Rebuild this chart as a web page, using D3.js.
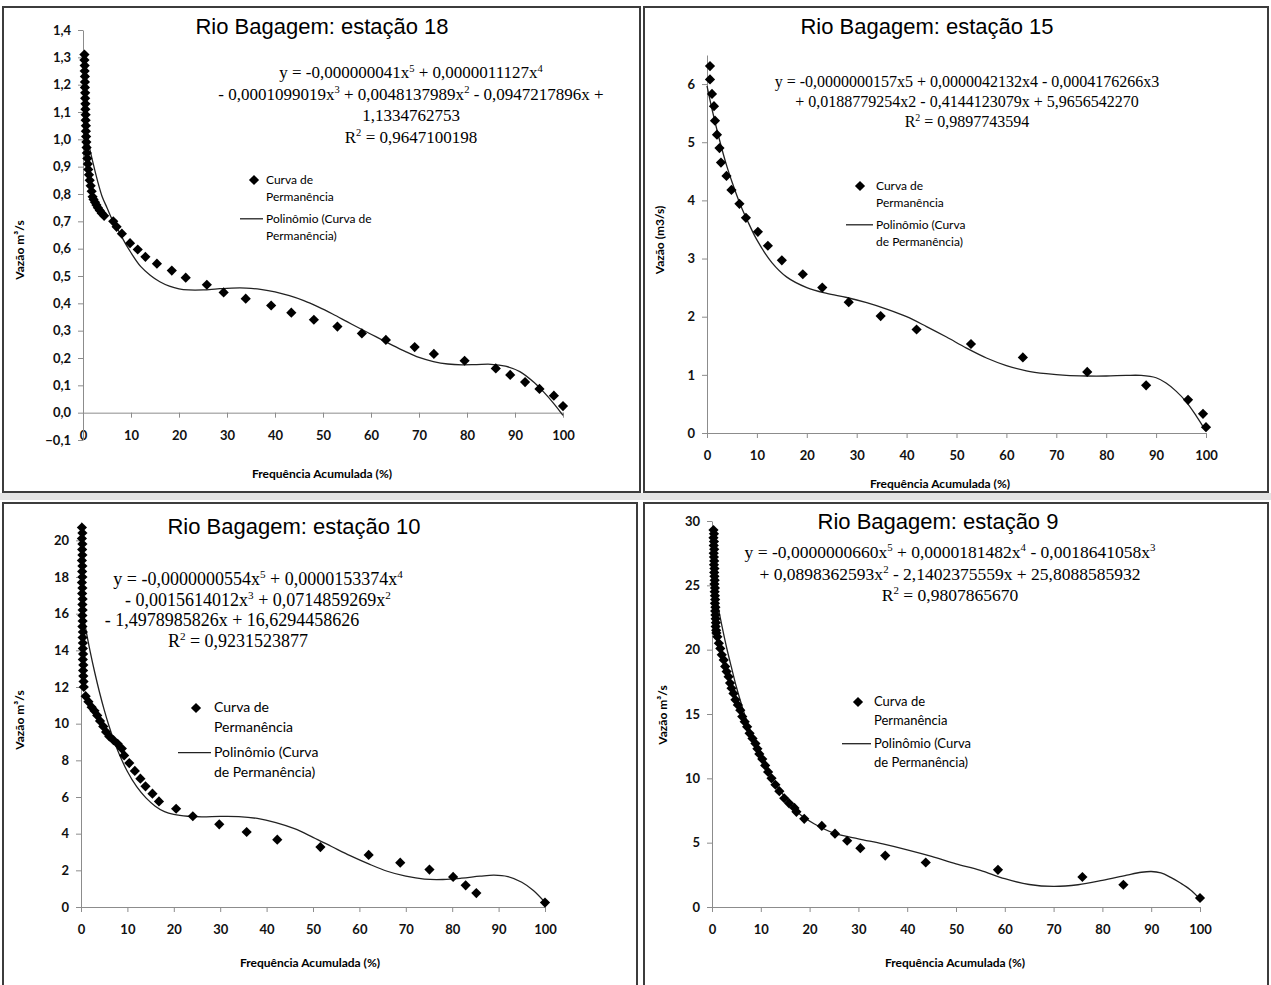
<!DOCTYPE html>
<html>
<head>
<meta charset="utf-8">
<script src="https://cdn.jsdelivr.net/npm/d3@7"></script>
<style>
  body { margin: 0; background: #fff; }
  svg { display: block; }
</style>
</head>
<body>
<svg id="chart" width="1271" height="985"></svg>
<script>
// ---- data ----
const freqTicks = [0, 10, 20, 30, 40, 50, 60, 70, 80, 90, 100];

// Estação 18
const st18X = [0.3, 0.3, 0.35, 0.35, 0.4, 0.4, 0.4, 0.45, 0.45, 0.5, 0.5, 0.55, 0.55, 0.6, 0.6, 0.65, 0.7, 0.75, 0.8, 0.9, 1.0, 1.1, 1.25, 1.4, 1.6, 1.8, 2.0, 2.2, 2.5, 2.8, 3.1, 3.5, 3.9, 4.4,
  6.3, 7.0, 8.1, 9.8, 11.4, 13.0, 15.4, 18.5, 21.4, 25.8, 29.3, 33.9, 39.2, 43.4, 48.1, 53.0, 58.1, 63.1, 69.1, 73.1, 79.5, 86.0, 89.0, 92.1, 95.1, 98.1, 100];
const st18Y = [1.31, 1.29, 1.27, 1.25, 1.23, 1.21, 1.19, 1.17, 1.15, 1.13, 1.11, 1.09, 1.07, 1.05, 1.03, 1.01, 0.99, 0.97, 0.95, 0.93, 0.91, 0.89, 0.87, 0.85, 0.83, 0.81, 0.79, 0.78, 0.77, 0.76, 0.75, 0.74, 0.73, 0.72,
  0.70, 0.68, 0.655, 0.62, 0.597, 0.57, 0.545, 0.52, 0.494, 0.468, 0.44, 0.417, 0.392, 0.366, 0.34, 0.315, 0.29, 0.266, 0.24, 0.215, 0.19, 0.162, 0.138, 0.112, 0.087, 0.062, 0.024];
const fit18X = [0, 0.5, 1, 2, 3, 4, 5, 6, 7, 8, 10, 12, 14, 16, 18, 20, 22, 25, 28, 31, 34, 37, 40, 43, 46, 49, 52, 55, 58, 61, 64, 67, 70, 73, 76, 79, 82, 85, 88, 91, 94, 96, 98, 100];
const fit18Y = [1.13, 1.06, 1.0, 0.92, 0.85, 0.79, 0.75, 0.71, 0.68, 0.645, 0.585, 0.535, 0.503, 0.479, 0.463, 0.453, 0.449, 0.449, 0.453, 0.456, 0.456, 0.451, 0.442, 0.428, 0.41, 0.387, 0.361, 0.333, 0.305, 0.278, 0.251, 0.225, 0.202, 0.187, 0.178, 0.175, 0.176, 0.177, 0.17, 0.15, 0.11, 0.075, 0.035, -0.01];
const ticks18Y = [-0.1, 0, 0.1, 0.2, 0.3, 0.4, 0.5, 0.6, 0.7, 0.8, 0.9, 1.0, 1.1, 1.2, 1.3, 1.4];
const eq18 = ["y = -0,000000041x^5 + 0,0000011127x^4", "- 0,0001099019x^3 + 0,0048137989x^2 - 0,0947217896x +", "1,1334762753", "R^2 = 0,9647100198"];

// Estação 15
const st15X = [0.6, 0.6, 1.0, 1.4, 1.6, 2.0, 2.5, 2.8, 3.9, 4.9, 6.5, 7.8, 10.2, 12.2, 15.0, 19.2, 23.1, 28.4, 34.8, 42.0, 52.9, 63.3, 76.2, 88.0, 96.4, 99.4, 100];
const st15Y = [6.31, 6.08, 5.83, 5.62, 5.37, 5.13, 4.90, 4.65, 4.42, 4.18, 3.94, 3.70, 3.46, 3.22, 2.97, 2.73, 2.50, 2.25, 2.01, 1.78, 1.53, 1.30, 1.05, 0.82, 0.57, 0.33, 0.10];
const fit15X = [0, 1, 2, 3, 4, 5, 6, 7, 8, 10, 13, 16, 20, 24, 28, 32, 36, 40, 44, 48, 52, 56, 60, 64, 68, 72, 76, 80, 84, 87, 90, 92, 94, 96, 98, 100];
const fit15Y = [5.97, 5.57, 5.21, 4.88, 4.58, 4.32, 4.08, 3.86, 3.67, 3.32, 2.93, 2.68, 2.50, 2.40, 2.33, 2.24, 2.13, 2.0, 1.83, 1.65, 1.46, 1.29, 1.16, 1.07, 1.02, 0.99, 0.98, 0.98, 0.99, 0.99, 0.95, 0.86, 0.72, 0.54, 0.30, 0.03];
const ticks15Y = [0, 1, 2, 3, 4, 5, 6];
const eq15 = ["y = -0,0000000157x5 + 0,0000042132x4 - 0,0004176266x3", "+ 0,0188779254x2 - 0,4144123079x + 5,9656542270", "R^2 = 0,9897743594"];

// Estação 10
const st10X = [0.2, 0.3, 0.2, 0.3, 0.25, 0.3, 0.2, 0.3, 0.25, 0.3, 0.2, 0.3, 0.25, 0.35, 0.3, 0.35, 0.3, 0.35, 0.3, 0.4, 0.35, 0.4, 0.4, 0.45, 0.4, 0.5, 0.45, 0.5, 0.55, 0.6,
  1.0, 1.6, 2.3, 2.9, 3.5, 4.1, 4.8, 5.4, 6.1, 7.0, 7.9, 8.8, 9.3, 10.4, 11.6, 12.8, 13.9, 15.4, 16.8, 20.5, 24.1, 29.8, 35.7, 42.3, 51.6, 62.0, 68.8, 75.1, 80.2, 82.9, 85.2, 100];
const st10Y = [20.7, 20.4, 20.1, 19.8, 19.5, 19.2, 18.9, 18.6, 18.3, 18.0, 17.7, 17.4, 17.1, 16.8, 16.5, 16.2, 15.9, 15.6, 15.3, 15.0, 14.7, 14.4, 14.1, 13.8, 13.5, 13.2, 12.9, 12.6, 12.3, 12.0,
  11.5, 11.2, 10.9, 10.7, 10.45, 10.15, 9.85, 9.55, 9.3, 9.1, 8.9, 8.64, 8.27, 7.85, 7.42, 7.0, 6.58, 6.18, 5.76, 5.36, 4.95, 4.51, 4.09, 3.67, 3.27, 2.84, 2.42, 2.04, 1.64, 1.18, 0.76, 0.24];
const fit10X = [0, 0.5, 1, 2, 3, 4, 5, 6, 7, 8, 10, 12, 14, 16, 18, 20, 23, 26, 30, 34, 38, 42, 46, 50, 54, 58, 62, 66, 70, 74, 78, 82, 86, 89, 92, 95, 97.5, 100];
const fit10Y = [16.63, 15.9, 15.2, 13.9, 12.75, 11.7, 10.75, 9.9, 9.15, 8.48, 7.39, 6.56, 5.95, 5.5, 5.2, 5.05, 4.95, 4.92, 4.94, 4.93, 4.83, 4.6, 4.27, 3.8, 3.3, 2.8, 2.35, 1.95, 1.68, 1.52, 1.5, 1.57, 1.68, 1.74, 1.66, 1.35, 0.9, 0.25];
const ticks10Y = [0, 2, 4, 6, 8, 10, 12, 14, 16, 18, 20];
const eq10 = ["y = -0,0000000554x^5 + 0,0000153374x^4", "- 0,0015614012x^3 + 0,0714859269x^2", "- 1,4978985826x + 16,6294458626", "R^2 = 0,9231523877"];

// Estação 9
const st9X = [0.3, 0.4, 0.3, 0.4, 0.35, 0.45, 0.35, 0.4, 0.45, 0.4, 0.5, 0.45, 0.5, 0.55, 0.5, 0.6, 0.55, 0.6, 0.65, 0.6, 0.7, 0.65, 0.7, 0.75, 0.8, 0.75, 0.85, 0.9,
  1.1, 1.4, 1.7, 2.0, 2.4, 2.7, 3.0, 3.4, 3.7, 4.0, 4.4, 4.8, 5.3, 5.8, 6.2, 6.7, 7.2, 7.7, 8.3, 8.9, 9.3, 9.7, 10.3, 10.9, 11.5, 12.2, 13.0, 13.8, 14.8, 15.8, 16.9, 17.3,
  18.9, 22.5, 25.2, 27.7, 30.4, 35.5, 43.8, 58.6, 75.9, 84.3, 100];
const st9Y = [29.3, 29.0, 28.7, 28.4, 28.1, 27.8, 27.5, 27.2, 26.9, 26.6, 26.3, 26.0, 25.7, 25.4, 25.1, 24.8, 24.5, 24.2, 23.9, 23.6, 23.3, 23.0, 22.7, 22.4, 22.1, 21.8, 21.5, 21.3,
  21.0, 20.5, 20.1, 19.6, 19.2, 18.7, 18.3, 17.9, 17.4, 17.0, 16.6, 16.1, 15.7, 15.3, 14.8, 14.4, 14.0, 13.5, 13.1, 12.7, 12.3, 11.9, 11.5, 11.0, 10.5, 10.0, 9.5, 9.0, 8.45, 8.06, 7.7, 7.4,
  6.85, 6.3, 5.7, 5.15, 4.57, 4.0, 3.46, 2.89, 2.33, 1.73, 0.70];
const fit9X = [0, 1, 2, 3, 4, 5, 6, 7, 8, 10, 12, 15, 18, 21, 25, 30, 35, 40, 45, 50, 55, 60, 65, 70, 75, 80, 85, 88, 90, 92, 94, 96, 98, 100];
const fit9Y = [25.8, 23.8, 21.9, 20.15, 18.6, 17.1, 15.8, 14.6, 13.55, 11.7, 10.2, 8.5, 7.2, 6.45, 5.74, 5.3, 4.9, 4.44, 3.93, 3.36, 2.85, 2.2, 1.75, 1.6, 1.73, 2.07, 2.48, 2.7, 2.76, 2.65, 2.3, 1.86, 1.34, 0.62];
const ticks9Y = [0, 5, 10, 15, 20, 25, 30];
const eq9 = ["y = -0,0000000660x^5 + 0,0000181482x^4 - 0,0018641058x^3", "+ 0,0898362593x^2 - 2,1402375559x + 25,8088585932", "R^2 = 0,9807865670"];

// ---- layout ----
const panels = [
  { box: [3, 7, 640, 492], title: "Rio Bagagem: estação 18", titleXY: [322, 34],
    xs: st18X, ys: st18Y, fx: fit18X, fy: fit18Y, yTicks: ticks18Y, yFmt: v => d3.format(".1f")(v).replace(".", ","),
    xRange: [83, 563], yDomain: [-0.1, 1.4], yRange: [440, 30],
    yTitle: "Vazão m³/s", yTitleXY: [24, 250], xTitleXY: [322, 478],
    eq: eq18, eqX: 411, eqY: 78, eqDy: 21.5, eqSize: 17,
    leg: [254, 180], legSize: 12, legLine: [240, 263], legText: [["Curva de", "Permanência"], ["Polinômio (Curva de", "Permanência)"]] },
  { box: [644, 7, 1268, 492], title: "Rio Bagagem: estação 15", titleXY: [927, 34],
    xs: st15X, ys: st15Y, fx: fit15X, fy: fit15Y, yTicks: ticks15Y, yFmt: d3.format("d"),
    xRange: [707, 1206], yDomain: [0, 6.5], yRange: [433, 55],
    yTitle: "Vazão (m3/s)", yTitleXY: [664, 240], xTitleXY: [940, 488],
    eq: eq15, eqX: 967, eqY: 87, eqDy: 20, eqSize: 16,
    leg: [860, 186], legSize: 12, legLine: [846, 873], legText: [["Curva de", "Permanência"], ["Polinômio (Curva", "de Permanência)"]] },
  { box: [3, 503, 637, 990], title: "Rio Bagagem: estação 10", titleXY: [294, 534],
    xs: st10X, ys: st10Y, fx: fit10X, fy: fit10Y, yTicks: ticks10Y, yFmt: d3.format("d"),
    xRange: [81, 545], yDomain: [0, 21], yRange: [907, 522],
    yTitle: "Vazão m³/s", yTitleXY: [24, 720], xTitleXY: [310, 967],
    eq: eq10, eqX: 258, eqY: 585, eqDy: 20.5, eqSize: 18, eqShift: [0, 0, -26, -20],
    leg: [196, 708], legSize: 14, legLine: [178, 211], legText: [["Curva de", "Permanência"], ["Polinômio (Curva", "de Permanência)"]] },
  { box: [644, 503, 1268, 990], title: "Rio Bagagem: estação 9", titleXY: [938, 529],
    xs: st9X, ys: st9Y, fx: fit9X, fy: fit9Y, yTicks: ticks9Y, yFmt: d3.format("d"),
    xRange: [712, 1200], yDomain: [0, 30], yRange: [907, 521],
    yTitle: "Vazão m³/s", yTitleXY: [667, 715], xTitleXY: [955, 967],
    eq: eq9, eqX: 950, eqY: 558, eqDy: 21.5, eqSize: 17.5,
    leg: [858, 702], legSize: 13, legLine: [842, 871], legText: [["Curva de", "Permanência"], ["Polinômio (Curva", "de Permanência)"]] }
];

const svg = d3.select("#chart");
const sansBold = "Lato, 'Liberation Sans', sans-serif";

// light gray gutter between the rows
svg.append("rect").attr("x", 0).attr("y", 493).attr("width", 1271).attr("height", 7).attr("fill", "#e4e4e4");

const diamond = d3.symbol().type(d3.symbolSquare).size(52);

function drawPanel(p) {
  const [bx0, by0, bx1, by1] = p.box;
  const g = svg.append("g");

  // frame
  g.append("rect")
    .attr("x", bx0).attr("y", by0)
    .attr("width", bx1 - bx0).attr("height", by1 - by0)
    .attr("fill", "#fff").attr("stroke", "#3c3c3c").attr("stroke-width", 2);

  const x = d3.scaleLinear().domain([0, 100]).range(p.xRange);
  const y = d3.scaleLinear().domain(p.yDomain).range(p.yRange);

  // x axis sits on y = 0
  const xAxis = g.append("g")
    .attr("transform", "translate(0," + y(0) + ")")
    .call(d3.axisBottom(x).tickValues(freqTicks).tickSize(5).tickSizeOuter(0).tickPadding(13));
  const yAxis = g.append("g")
    .attr("transform", "translate(" + x(0) + ",0)")
    .call(d3.axisLeft(y).tickValues(p.yTicks).tickFormat(p.yFmt).tickSize(5).tickSizeOuter(0).tickPadding(7));

  [xAxis, yAxis].forEach(a => {
    a.select(".domain").attr("stroke", "#8c8c8c");
    a.selectAll(".tick line").attr("stroke", "#8c8c8c");
    a.selectAll(".tick text")
      .attr("fill", "#111")
      .style("font-family", sansBold)
      .style("font-weight", "bold")
      .style("font-size", "13px");
  });

  // title
  g.append("text")
    .attr("x", p.titleXY[0]).attr("y", p.titleXY[1])
    .attr("text-anchor", "middle")
    .style("font-family", "'Liberation Sans', Arial, sans-serif")
    .style("font-size", "22px")
    .text(p.title);

  // axis titles
  g.append("text")
    .attr("x", p.xTitleXY[0]).attr("y", p.xTitleXY[1])
    .attr("text-anchor", "middle")
    .style("font-family", sansBold).style("font-weight", "bold").style("font-size", "12px")
    .text("Frequência Acumulada (%)");
  g.append("text")
    .attr("text-anchor", "middle")
    .attr("transform", "translate(" + p.yTitleXY[0] + "," + p.yTitleXY[1] + ")rotate(-90)")
    .style("font-family", sansBold).style("font-weight", "bold").style("font-size", "12px")
    .text(p.yTitle);

  // equation of the trend line ("^n" marks a superscript)
  p.eq.forEach((line, i) => {
    const shift = p.eqShift ? p.eqShift[i] : 0;
    const t = g.append("text")
      .attr("x", p.eqX + shift).attr("y", p.eqY + i * p.eqDy)
      .attr("text-anchor", "middle")
      .style("font-family", "'Liberation Serif', 'Times New Roman', serif")
      .style("font-size", p.eqSize + "px");
    const rise = p.eqSize * 0.38;
    let back = 0;
    line.split(/\^(\d)/).forEach((part, j) => {
      if (j % 2 === 1) {
        t.append("tspan").attr("dy", -rise).style("font-size", (p.eqSize * 0.62) + "px").text(part);
        back = rise;
      } else if (part.length) {
        t.append("tspan").attr("dy", back).text(part);
        back = 0;
      }
    });
  });

  // fitted polynomial
  const pts = p.fx.map((v, i) => [v, p.fy[i]]);
  g.append("path")
    .datum(pts)
    .attr("fill", "none")
    .attr("stroke", "#222")
    .attr("stroke-width", 1.3)
    .attr("d", d3.line().x(d => x(d[0])).y(d => y(d[1])).curve(d3.curveCatmullRom.alpha(0.5)));

  // observed points
  g.append("g")
    .selectAll("path")
    .data(p.xs.map((v, i) => [v, p.ys[i]]))
    .enter()
    .append("path")
    .attr("d", diamond)
    .attr("transform", d => "translate(" + x(d[0]) + "," + y(d[1]) + ")rotate(45)")
    .attr("fill", "#000");

  // legend
  const [lx, ly] = p.leg;
  const lh = p.legSize * 1.45;
  g.append("path").attr("d", diamond).attr("transform", "translate(" + lx + "," + ly + ")rotate(45)").attr("fill", "#000");
  g.append("line")
    .attr("x1", p.legLine[0]).attr("x2", p.legLine[1])
    .attr("y1", ly + 2 * lh + 4).attr("y2", ly + 2 * lh + 4)
    .attr("stroke", "#222").attr("stroke-width", 1.3);
  const tx = p.legLine[1] + 3;
  p.legText.forEach((lines, k) => {
    lines.forEach((s, m) => {
      g.append("text")
        .attr("x", tx).attr("y", ly + 4 + k * (2 * lh + 4) + m * lh)
        .style("font-family", "Lato, 'Liberation Sans', sans-serif")
        .style("font-size", p.legSize + "px")
        .text(s);
    });
  });
}

panels.forEach(drawPanel);
</script>
</body>
</html>
